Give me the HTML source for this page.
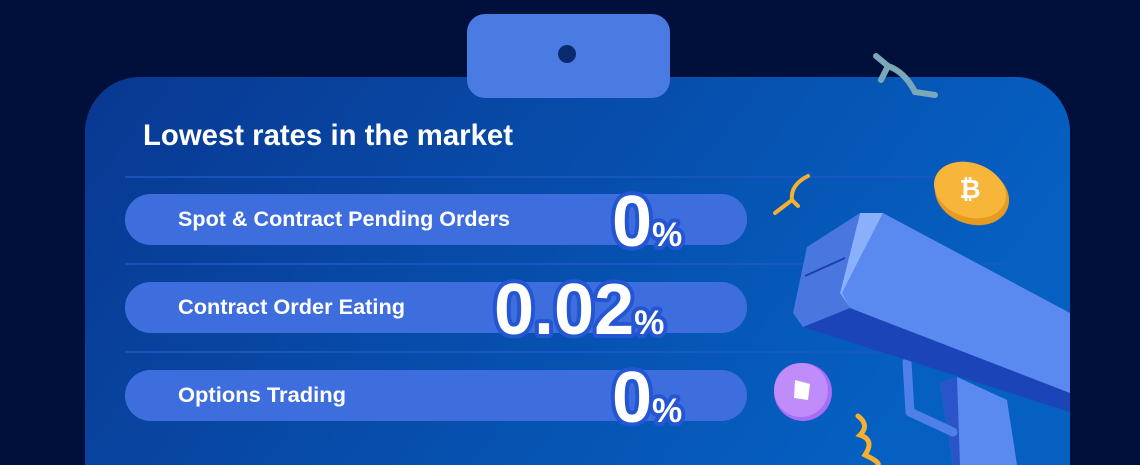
<!DOCTYPE html>
<html><head><meta charset="utf-8"><style>
body{margin:0;width:1140px;height:465px;overflow:hidden;background:#00103a;font-family:"Liberation Sans",sans-serif}
#s{position:absolute;left:0;top:0}
.t{font-family:"Liberation Sans",sans-serif;fill:#fff}
.big{font-weight:bold;fill:#fff;stroke:#2456d4;stroke-width:8px;paint-order:stroke;stroke-linejoin:round}
</style></head><body>
<svg id="s" width="1140" height="465" viewBox="0 0 1140 465">
<defs>
<linearGradient id="cg" x1="0" y1="0" x2="1" y2="0.3"><stop offset="0" stop-color="#093891"/><stop offset="1" stop-color="#0560c2"/></linearGradient>
</defs>
<path d="M85,465 L85,132 A55,55 0 0 1 140,77 L1015,77 A55,55 0 0 1 1070,132 L1070,465 Z" fill="url(#cg)"/>
<rect x="467" y="14" width="203" height="84" rx="18" fill="#4a7be2"/>
<circle cx="567" cy="54" r="9" fill="#0a2a6e"/>
<text class="t" x="143" y="145" font-size="30" font-weight="bold" textLength="370" lengthAdjust="spacingAndGlyphs">Lowest rates in the market</text>
<g stroke="#1d58c6" stroke-width="1.5">
<line x1="125" y1="177" x2="1010" y2="177"/><line x1="125" y1="264" x2="1010" y2="264"/><line x1="125" y1="352" x2="1010" y2="352"/>
</g>
<g>
<rect x="125" y="194" width="622" height="51" rx="25.5" fill="#3e6ede"/>
<text class="t" x="178" y="226" font-size="21" font-weight="bold" textLength="332" lengthAdjust="spacingAndGlyphs">Spot &amp; Contract Pending Orders</text>
<text class="big" x="612" y="246" font-size="72">0<tspan font-size="34">%</tspan></text>
</g>
<g>
<rect x="125" y="282" width="622" height="51" rx="25.5" fill="#3e6ede"/>
<text class="t" x="178" y="314" font-size="21" font-weight="bold" textLength="227" lengthAdjust="spacingAndGlyphs">Contract Order Eating</text>
<text class="big" x="494" y="334" font-size="72">0.02<tspan font-size="34">%</tspan></text>
</g>
<g>
<rect x="125" y="370" width="622" height="51" rx="25.5" fill="#3e6ede"/>
<text class="t" x="178" y="402" font-size="21" font-weight="bold" textLength="168" lengthAdjust="spacingAndGlyphs">Options Trading</text>
<text class="big" x="612" y="422" font-size="72">0<tspan font-size="34">%</tspan></text>
</g>
<g>
<polygon points="940,383 957,377 1007,400 1017,465 953,465" fill="#5a8af0"/>
<polygon points="940,383 957,377 960,465 953,465" fill="#2a55c8"/>
<polyline points="907,362 910,412 953,432" fill="none" stroke="#4f7fe8" stroke-width="9" stroke-linecap="round" stroke-linejoin="round"/>
<polygon points="850,308 1070,393 1070,412 803,327" fill="#1a44b8"/>
<polygon points="883,213 1070,313 1070,393 850,308 842,293" fill="#5a8af0"/>
<polygon points="860,213 883,213 842,293 850,308 840,293" fill="#8ab0fb"/>
<polygon points="807,247 860,213 840,293 850,308 803,327 793,313" fill="#4a76e0"/>
<line x1="805" y1="276" x2="845" y2="258" stroke="#1e3fa8" stroke-width="2"/>
</g>
<g>
<ellipse cx="972" cy="195" rx="38" ry="29" transform="rotate(20 972 195)" fill="#e59a22"/>
<ellipse cx="970" cy="190" rx="37" ry="27" transform="rotate(20 970 190)" fill="#f7b53a"/>
<text x="970" y="198" font-size="26" font-weight="bold" fill="#fff" text-anchor="middle">₿</text>
</g>
<g>
<circle cx="803" cy="392" r="29" fill="#a56ef5"/>
<circle cx="801" cy="390" r="27" fill="#c08cfa"/>
<polygon points="795,380 810,384 808,400 794,398" fill="#fff"/>
</g>
<g fill="none" stroke-linecap="round">
<path d="M876,56 L888,66 L881,80 M888,66 Q905,72 915,92 L935,95" stroke="#7aa8b8" stroke-width="6"/>
<path d="M808,176 Q790,185 792,200 L798,206 M792,200 L775,213" stroke="#f5b030" stroke-width="4"/>
<path d="M858,416 Q870,425 860,435 Q875,440 865,455 Q880,462 878,465" stroke="#f5b030" stroke-width="5"/>
</g>
</svg>
</body></html>
